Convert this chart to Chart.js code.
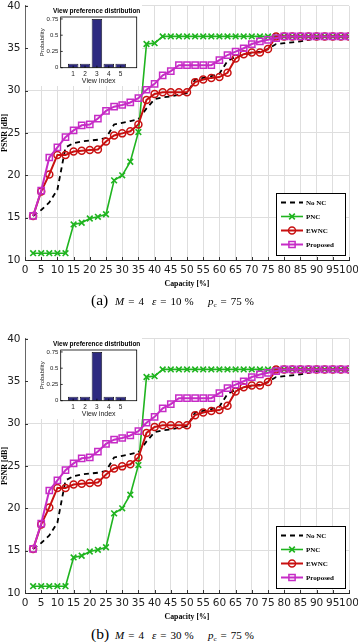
<!DOCTYPE html>
<html><head><meta charset="utf-8">
<script src="https://cdn.jsdelivr.net/npm/chart.js@4.4.0/dist/chart.umd.min.js"></script>
<style>
html,body{margin:0;padding:0;background:#fff;width:358px;height:642px;overflow:hidden;position:relative;}
.wrap{position:absolute;}
canvas{display:block;}
.cap{position:absolute;font-family:'Liberation Serif',serif;color:#000;white-space:nowrap;}
.lbl{font-size:15.5px;line-height:18px;}
.m{font-size:11px;line-height:14px;}
.m sub{font-size:7px;vertical-align:-2px;}
.eq{margin:0 4px;}
.pc{margin-left:3px;}
</style></head>
<body>
<div class="wrap" style="left:0;top:0;"><canvas id="cA" width="358" height="292"></canvas></div>
<div class="wrap" style="left:28px;top:5px;"><canvas id="iA" width="114" height="81"></canvas></div>
<div class="wrap" style="left:0;top:333px;"><canvas id="cB" width="358" height="292"></canvas></div>
<div class="wrap" style="left:28px;top:338px;"><canvas id="iB" width="114" height="81"></canvas></div>

<div class="cap lbl" style="left:91px;top:291px;">(a)</div>
<div class="cap m" style="left:115px;top:294px;"><i>M</i><span class="eq">=</span>4</div>
<div class="cap m" style="left:152px;top:294px;"><i>ε</i><span class="eq">=</span>10<span class="pc">%</span></div>
<div class="cap m" style="left:208px;top:294px;"><i>p</i><sub>c</sub><span class="eq">=</span>75<span class="pc">%</span></div>

<div class="cap lbl" style="left:91px;top:625px;">(b)</div>
<div class="cap m" style="left:115px;top:628px;"><i>M</i><span class="eq">=</span>4</div>
<div class="cap m" style="left:152px;top:628px;"><i>ε</i><span class="eq">=</span>30<span class="pc">%</span></div>
<div class="cap m" style="left:208px;top:628px;"><i>p</i><sub>c</sub><span class="eq">=</span>75<span class="pc">%</span></div>

<script>
// ---- data ----
const capacity = [2.5,5,7.5,10,12.5,15,17.5,20,22.5,25,27.5,30,32.5,35,37.5,40,42.5,45,47.5,50,
                  52.5,55,57.5,60,62.5,65,67.5,70,72.5,75,77.5,80,82.5,85,87.5,90,92.5,95,97.5,100];
const psnrNoNC = [15.2,15.9,16.8,18.3,23.3,23.8,24.0,24.1,24.2,24.4,26.0,26.2,26.4,26.6,27.9,29.0,29.2,29.3,29.5,29.7,
                  31.3,31.5,31.7,32.0,33.5,34.0,34.2,34.4,34.6,34.9,35.5,35.6,35.7,35.8,36.0,36.2,36.4,36.4,36.4,36.4];
const psnrPNC = [10.8,10.8,10.8,10.8,10.8,14.2,14.4,14.9,15.1,15.4,19.4,20.0,21.6,25.1,35.5,35.6,36.4,36.4,36.4,36.4,
                 36.4,36.4,36.4,36.4,36.4,36.4,36.4,36.4,36.4,36.4,36.4,36.4,36.4,36.4,36.4,36.4,36.4,36.4,36.4,36.4];
const psnrEWNC = [15.2,18.1,20.1,22.4,22.4,22.8,22.9,23.0,23.05,24.0,24.7,24.95,25.2,26.0,28.9,29.6,29.8,29.8,29.8,29.8,
                  31.0,31.3,31.5,31.6,32.1,33.8,34.3,34.5,34.5,34.9,36.4,36.4,36.4,36.4,36.4,36.4,36.4,36.4,36.4,36.4];
const psnrProposed = [15.2,18.2,22.1,23.3,24.5,25.3,25.9,26.0,26.7,27.6,28.1,28.3,28.6,29.1,30.1,30.8,31.8,32.3,33.0,33.0,
                      33.0,33.0,33.0,33.6,34.2,34.6,35.0,35.5,35.8,36.0,36.2,36.4,36.4,36.4,36.4,36.4,36.4,36.4,36.4,36.4];
const seriesNames = ['No NC','PNC','EWNC','Proposed'];
const viewIndex = [1,2,3,4,5];
const viewProb = [0.0625,0.0625,0.75,0.0625,0.0625];
const probTicks = [0,0.25,0.5,0.75];

const GREEN = '#1fb41f', RED = '#c81010', MAG = '#c62cc6', BAR = '#2e2a80';
const pts = arr => capacity.map((x,i)=>({x:x, y:arr[i]}));
const zeroPad = s => { s.paddingLeft = 0; s.paddingRight = 0; s.paddingTop = 0; s.paddingBottom = 0; };

function drawMarker(ctx, style, x, y, r){
  ctx.beginPath();
  if (style === 'circle') { ctx.arc(x, y, r, 0, Math.PI*2); }
  else if (style === 'rect') { const s = r*Math.SQRT1_2; ctx.rect(x-s, y-s, 2*s, 2*s); }
  else if (style === 'crossRot') { const s = r*Math.SQRT1_2; ctx.moveTo(x-s,y-s); ctx.lineTo(x+s,y+s); ctx.moveTo(x+s,y-s); ctx.lineTo(x-s,y+s); }
  ctx.stroke();
}

const axisTicks = {
  id:'axisTicks',
  afterDatasetsDraw(chart){
    const {ctx, chartArea:a, scales:{x, y}} = chart;
    ctx.save();
    ctx.strokeStyle = '#333'; ctx.lineWidth = 1;
    ctx.beginPath();
    x.ticks.forEach(t => { const p = Math.round(x.getPixelForValue(t.value))+0.5; ctx.moveTo(p, a.bottom); ctx.lineTo(p, a.bottom-3); });
    y.ticks.forEach(t => { const p = Math.round(y.getPixelForValue(t.value))+0.5; ctx.moveTo(a.left, p); ctx.lineTo(a.left+3, p); });
    ctx.stroke();
    ctx.restore();
  }
};

const boxLegend = {
  id:'boxLegend',
  afterDraw(chart){
    const {ctx, chartArea:a} = chart;
    const L = Math.round(a.right-73), T = Math.round(a.bottom-67), W = 69, H = 62;
    ctx.save();
    ctx.fillStyle = '#fff'; ctx.fillRect(L, T, W, H);
    ctx.strokeStyle = '#000'; ctx.lineWidth = 1; ctx.strokeRect(L+0.5, T+0.5, W, H);
    chart.data.datasets.forEach((ds, i) => {
      const y = T + 9.5 + i*14;
      ctx.strokeStyle = ds.borderColor; ctx.lineWidth = ds.borderWidth;
      ctx.setLineDash(ds.borderDash || []);
      ctx.beginPath(); ctx.moveTo(L+5, y); ctx.lineTo(L+27, y); ctx.stroke();
      ctx.setLineDash([]);
      if (ds.pointRadius > 0) { ctx.lineWidth = ds.pointBorderWidth; drawMarker(ctx, ds.pointStyle, L+16, y, ds.pointRadius); }
      ctx.fillStyle = '#000'; ctx.font = 'bold 7px "Liberation Serif"'; ctx.textBaseline = 'middle'; ctx.textAlign = 'left';
      ctx.fillText(ds.label, L+30, y+0.5);
    });
    ctx.restore();
  }
};

function makeMain(id){
  const tickFont = {family:'DejaVu Sans', size:10.5};
  const grid = {color:'#dedede', lineWidth:1, drawTicks:false};
  return new Chart(document.getElementById(id), {
    type:'line',
    data:{datasets:[
      {label:seriesNames[0], data:pts(psnrNoNC), borderColor:'#000', borderWidth:1.8, borderDash:[5,4], pointRadius:0, order:3},
      {label:seriesNames[1], data:pts(psnrPNC), borderColor:GREEN, borderWidth:1.6, pointStyle:'crossRot', pointRadius:4,
       pointBorderWidth:1.6, pointBorderColor:GREEN, pointBackgroundColor:'rgba(0,0,0,0)', order:2},
      {label:seriesNames[2], data:pts(psnrEWNC), borderColor:RED, borderWidth:2, pointStyle:'circle', pointRadius:3.5,
       pointBorderWidth:1.5, pointBorderColor:RED, pointBackgroundColor:'rgba(255,255,255,0)', order:1},
      {label:seriesNames[3], data:pts(psnrProposed), borderColor:MAG, borderWidth:2, pointStyle:'rect', pointRadius:4.4,
       pointBorderWidth:1.5, pointBorderColor:MAG, pointBackgroundColor:'rgba(255,255,255,0)', order:0}
    ]},
    options:{
      responsive:false, animation:false, events:[],
      layout:{padding:{top:4.5, right:9, bottom:0, left:0}},
      elements:{line:{tension:0}},
      plugins:{legend:{display:false}, tooltip:{enabled:false}},
      scales:{
        x:{type:'linear', min:0, max:100,
           ticks:{stepSize:5, autoSkip:false, maxRotation:0, padding:3.7, font:tickFont, color:'#222'},
           grid:grid, border:{color:'#222', width:1},
           title:{display:true, text:'Capacity [%]', color:'#000', font:{family:'Liberation Serif', size:7.8, weight:'bold'}, padding:{top:0, bottom:3.3}},
           afterFit(s){ s.height = 32; zeroPad(s); }},
        y:{type:'linear', min:10, max:40,
           ticks:{stepSize:5, padding:4.5, font:tickFont, color:'#222'},
           grid:grid, border:{color:'#666', width:1},
           title:{display:true, text:'PSNR [dB]', color:'#000', font:{family:'Liberation Serif', size:8, weight:'bold'}, padding:{top:0, bottom:0}},
           afterFit(s){ s.width = 25; zeroPad(s); }}
      }
    },
    plugins:[axisTicks, boxLegend]
  });
}

const insetDeco = {
  id:'insetDeco',
  beforeDraw(chart){
    const {ctx, width, height} = chart;
    ctx.save(); ctx.fillStyle = '#fff'; ctx.fillRect(0, 0, width, height); ctx.restore();
  },
  afterDraw(chart){
    const {ctx, chartArea:a, scales:{x, y}} = chart;
    ctx.save();
    ctx.strokeStyle = '#000'; ctx.lineWidth = 0.8;
    ctx.strokeRect(a.left, a.top, a.right-a.left, a.bottom-a.top);
    ctx.beginPath();
    y.ticks.forEach(t => { const p = y.getPixelForValue(t.value); ctx.moveTo(a.left, p); ctx.lineTo(a.left+2, p); });
    x.ticks.forEach(t => { const p = x.getPixelForValue(t.value); ctx.moveTo(p, a.bottom); ctx.lineTo(p, a.bottom-2); });
    ctx.stroke();
    ctx.fillStyle = '#000'; ctx.font = 'bold 6.5px "Liberation Sans"'; ctx.textAlign = 'center'; ctx.textBaseline = 'middle';
    ctx.fillText('View preference distribution', 68.7, 6.7);
    ctx.restore();
  }
};

function makeInset(id){
  return new Chart(document.getElementById(id), {
    type:'bar',
    data:{datasets:[{data:viewIndex.map((v,i)=>({x:v, y:viewProb[i]})), backgroundColor:BAR, borderColor:'#000',
      borderWidth:0.8, borderSkipped:false, barPercentage:0.88, categoryPercentage:1}]},
    options:{
      responsive:false, animation:false, events:[],
      layout:{padding:{top:12, right:5.3, bottom:0, left:0}},
      plugins:{legend:{display:false}, tooltip:{enabled:false}},
      scales:{
        x:{type:'linear', min:-0.05, max:6.35, offset:false,
           afterBuildTicks(s){ s.ticks = viewIndex.map(v=>({value:v})); },
           ticks:{autoSkip:false, maxRotation:0, padding:2.4, font:{family:'Liberation Sans', size:6.5}, color:'#222', callback:v=>String(v)},
           grid:{display:false, drawTicks:false}, border:{display:false},
           title:{display:true, text:'View index', color:'#222', font:{family:'Liberation Sans', size:7}, padding:{top:0, bottom:1.1}},
           afterFit(s){ s.height = 18.3; zeroPad(s); }},
        y:{type:'linear', min:0, max:0.78,
           afterBuildTicks(s){ s.ticks = probTicks.map(v=>({value:v})); },
           ticks:{padding:2.4, font:{family:'Liberation Sans', size:6}, color:'#222', callback:v=>String(v)},
           grid:{display:false, drawTicks:false}, border:{display:false},
           title:{display:true, text:'Probability', color:'#222', font:{family:'Liberation Sans', size:6}, padding:{top:10.4, bottom:0}},
           afterFit(s){ s.width = 32.7; zeroPad(s); }}
      }
    },
    plugins:[insetDeco]
  });
}

makeMain('cA'); makeInset('iA');
makeMain('cB'); makeInset('iB');
</script>
</body></html>
